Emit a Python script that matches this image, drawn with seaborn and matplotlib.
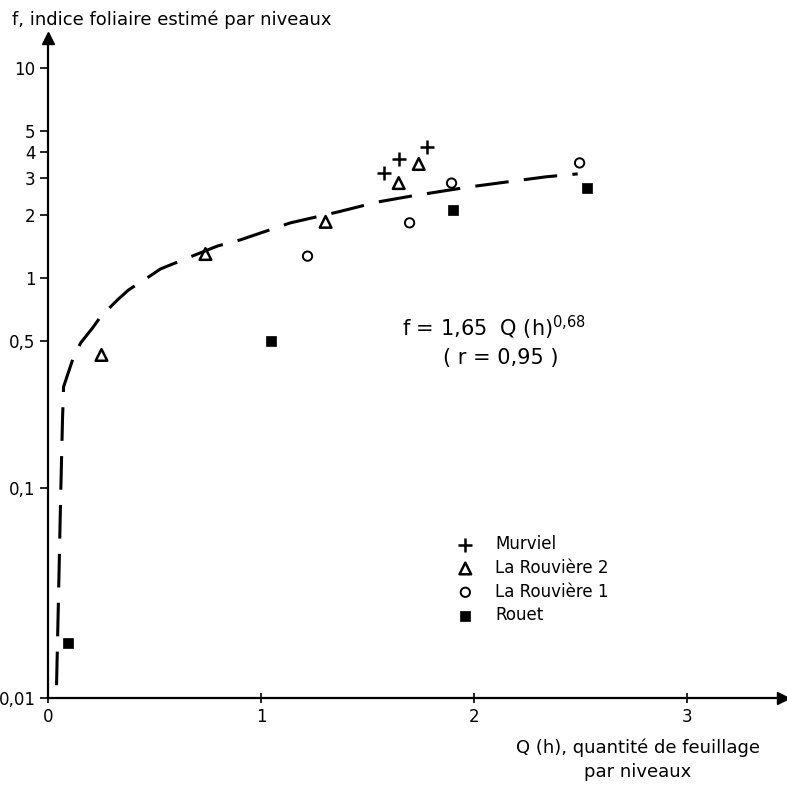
import matplotlib
matplotlib.use("Agg")
import matplotlib.pyplot as plt
import seaborn as sns
import numpy as np

# ---- data ----
murviel_q = [1.575, 1.646, 1.78]
murviel_f = [3.16, 3.69, 4.2]

rouv2_q = [0.251, 0.739, 1.303, 1.646, 1.74]
rouv2_f = [0.43, 1.30, 1.85, 2.83, 3.49]

rouv1_q = [1.218, 1.697, 1.894, 2.495]
rouv1_f = [1.27, 1.83, 2.83, 3.53]

rouet_q = [0.096, 1.045, 1.903, 2.528]
rouet_f = [0.0183, 0.50, 2.11, 2.68]

# fitted curve f = 1,65 Q(h)^0,68 as drawn (traced points)
curve_q = [0.040, 0.049, 0.059, 0.068, 0.073, 0.120, 0.153, 0.209, 0.246, 0.326,
           0.378, 0.472, 0.528, 0.655, 0.796, 0.904, 1.138, 1.359, 1.547, 1.711,
           1.974, 2.148, 2.336, 2.486]
curve_f = [0.0115, 0.0293, 0.0877, 0.211, 0.303, 0.421, 0.490, 0.578, 0.652, 0.786,
           0.877, 1.011, 1.104, 1.245, 1.42, 1.52, 1.83, 2.06, 2.30, 2.46,
           2.71, 2.86, 3.03, 3.13]

y_ticks = [0.01, 0.1, 0.5, 1, 2, 3, 4, 5, 10]
y_ticklabels = ["0,01", "0,1", "0,5", "1", "2", "3", "4", "5", "10"]
x_ticks = [0, 1, 2, 3]
x_ticklabels = ["0", "1", "2", "3"]

series_names = ["Murviel", "La Rouvière 2", "La Rouvière 1", "Rouet"]

# ---- figure ----
sns.set_theme(style="white")
plt.rcParams["font.family"] = ["DejaVu Sans"]
plt.rcParams["mathtext.default"] = "regular"
plt.rcParams["text.color"] = "black"
plt.rcParams["xtick.labelcolor"] = "black"
plt.rcParams["ytick.labelcolor"] = "black"

fig = plt.figure(figsize=(7.87, 7.90), dpi=100)
ax = fig.add_axes([0.061, 0.1165, 0.934, 0.8355])

ax.set_yscale("log")
ax.set_xlim(0, 3.45)
ax.set_ylim(0.01, 13.9)

sns.lineplot(x=curve_q, y=curve_f, ax=ax, color="black", lw=2.2,
             linestyle=(0, (11, 5)), sort=False)

sns.scatterplot(x=murviel_q, y=murviel_f, ax=ax, marker="+", s=110,
                color="black", linewidth=1.8, label=series_names[0])
sns.scatterplot(x=rouv2_q, y=rouv2_f, ax=ax, marker="^", s=70,
                facecolor="none", edgecolor="black", linewidth=1.8,
                label=series_names[1])
sns.scatterplot(x=rouv1_q, y=rouv1_f, ax=ax, marker="o", s=45,
                facecolor="none", edgecolor="black", linewidth=1.4,
                label=series_names[2])
sns.scatterplot(x=rouet_q, y=rouet_f, ax=ax, marker="s", s=55,
                color="black", edgecolor="black", linewidth=0.5,
                label=series_names[3])

# axes styling
for side in ["top", "right"]:
    ax.spines[side].set_visible(False)
for side in ["left", "bottom"]:
    ax.spines[side].set_color("black")
    ax.spines[side].set_linewidth(1.6)

ax.set_yticks(y_ticks)
ax.set_yticklabels(y_ticklabels)
ax.yaxis.set_minor_locator(matplotlib.ticker.NullLocator())
ax.set_xticks(x_ticks)
ax.set_xticklabels(x_ticklabels)
ax.tick_params(axis="y", which="major", direction="out", length=6, width=1.2,
               color="black", labelcolor="black", labelsize=12, pad=3, left=True)
ax.tick_params(axis="x", which="major", direction="inout", length=7, width=1.2,
               color="black", labelcolor="black", labelsize=12, pad=4, bottom=True)
ax.set_xlabel("")
ax.set_ylabel("")

# arrows at axis ends
ax.plot(1, 0, marker=">", color="black", markersize=8, transform=ax.transAxes,
        clip_on=False)
ax.plot(0, 1, marker="^", color="black", markersize=8, transform=ax.transAxes,
        clip_on=False)

# axis titles
fig.text(12 / 787, 1 - 20 / 790, "f, indice foliaire estimé par niveaux",
         ha="left", va="center", fontsize=13, color="black")
fig.text(638 / 787, 1 - 760 / 790, "Q (h), quantité de feuillage\npar niveaux",
         ha="center", va="center", fontsize=13, color="black", linespacing=1.45)

# formula
fig.text(494 / 787, 1 - 328 / 790, "f = 1,65  Q (h)$^{0{,}68}$",
         ha="center", va="center", fontsize=15, color="black")
fig.text(501 / 787, 1 - 358 / 790, "( r = 0,95 )",
         ha="center", va="center", fontsize=15, color="black")

leg = ax.legend(loc="upper left", bbox_to_anchor=(457 / 787, 1 - 535 / 790),
                bbox_transform=fig.transFigure, frameon=False, fontsize=12,
                handlelength=1.0, handletextpad=1.3, labelspacing=0.35,
                borderpad=0, borderaxespad=0)
for t in leg.get_texts():
    t.set_color("black")

fig.savefig("out.png", dpi=100, facecolor="white")
